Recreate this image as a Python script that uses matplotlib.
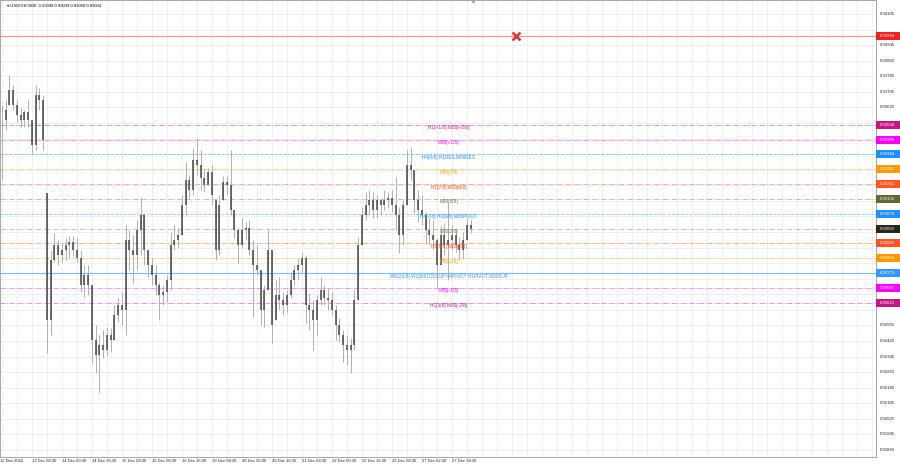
import matplotlib
matplotlib.use("Agg")
import matplotlib.pyplot as plt
from matplotlib.patches import Rectangle
from matplotlib.transforms import blended_transform_factory
import numpy as np

plt.rcParams['font.family'] = ['Liberation Sans', 'DejaVu Sans']

title = "USDCHF,M30  0.93038 0.93039 0.93000 0.93004"

# price blocks (2 hours each)
hi = [0.93637, 0.93663, 0.93792, 0.93740, 0.93663, 0.93622, 0.93612, 0.93663, 0.93560, 0.93740,
      0.93725, 0.93689, 0.93185, 0.92892, 0.92979, 0.92943, 0.92928, 0.92954, 0.92964, 0.92964,
      0.92954, 0.92892, 0.92815, 0.92815, 0.92712, 0.92507, 0.92455, 0.92481, 0.92496, 0.92491,
      0.92609, 0.92645, 0.92676, 0.93021, 0.92995, 0.92969, 0.93046, 0.93164, 0.93082, 0.92892,
      0.92851, 0.92815, 0.92728, 0.92712, 0.92764, 0.92985, 0.93021, 0.93005, 0.93175, 0.93344,
      0.93278, 0.93416, 0.93468, 0.93406, 0.93313, 0.93313, 0.93329, 0.93149, 0.93175, 0.93272,
      0.93278, 0.93406, 0.93098, 0.93005, 0.93056, 0.93036, 0.93046, 0.92943, 0.92918, 0.92789,
      0.92712, 0.92995, 0.92892, 0.92738, 0.92753, 0.92676, 0.92686, 0.92779, 0.92815, 0.92851,
      0.92882, 0.92866, 0.92671, 0.92635, 0.92661, 0.92753, 0.92712, 0.92697, 0.92676, 0.92609,
      0.92543, 0.92481, 0.92455, 0.92440, 0.92686, 0.92959, 0.93113, 0.93190, 0.93200, 0.93190,
      0.93175, 0.93159, 0.93200, 0.93190, 0.93200, 0.93267, 0.93113, 0.93149, 0.93406, 0.93421,
      0.93303, 0.93200, 0.93175, 0.93087, 0.93056, 0.93046, 0.92954, 0.93021, 0.93031, 0.93134,
      0.93021, 0.93005, 0.92959, 0.92985, 0.93056, 0.93046]
lo = [0.93252, 0.93509, 0.93637, 0.93612, 0.93550, 0.93524, 0.93524, 0.93524, 0.93391, 0.93406,
      0.93612, 0.93406, 0.92363, 0.92455, 0.92830, 0.92815, 0.92830, 0.92841, 0.92851, 0.92861,
      0.92830, 0.92676, 0.92650, 0.92661, 0.92311, 0.92260, 0.92157, 0.92337, 0.92352, 0.92368,
      0.92429, 0.92522, 0.92507, 0.92455, 0.92789, 0.92722, 0.92789, 0.92866, 0.92815, 0.92753,
      0.92712, 0.92661, 0.92532, 0.92609, 0.92625, 0.92686, 0.92892, 0.92902, 0.92969, 0.93072,
      0.93159, 0.93175, 0.93278, 0.93200, 0.93190, 0.93226, 0.93123, 0.92841, 0.92866, 0.93149,
      0.93175, 0.93072, 0.92954, 0.92825, 0.92902, 0.92943, 0.92866, 0.92548, 0.92764, 0.92507,
      0.92496, 0.92686, 0.92414, 0.92532, 0.92584, 0.92558, 0.92573, 0.92645, 0.92712, 0.92738,
      0.92779, 0.92517, 0.92481, 0.92378, 0.92455, 0.92609, 0.92609, 0.92584, 0.92558, 0.92429,
      0.92419, 0.92316, 0.92301, 0.92260, 0.92378, 0.92635, 0.92918, 0.93046, 0.93072, 0.93056,
      0.93056, 0.93072, 0.93098, 0.93108, 0.93087, 0.92995, 0.92877, 0.92918, 0.93123, 0.93252,
      0.93082, 0.93036, 0.93021, 0.92928, 0.92918, 0.92892, 0.92702, 0.92815, 0.92866, 0.92738,
      0.92892, 0.92882, 0.92841, 0.92851, 0.92943, 0.92979]
cl = [0.93560, 0.93612, 0.93714, 0.93637, 0.93586, 0.93560, 0.93601, 0.93560, 0.93432, 0.93689,
      0.93663, 0.93457, 0.92532, 0.92841, 0.92918, 0.92866, 0.92892, 0.92918, 0.92933, 0.92892,
      0.92851, 0.92712, 0.92764, 0.92712, 0.92429, 0.92352, 0.92404, 0.92378, 0.92455, 0.92429,
      0.92558, 0.92609, 0.92584, 0.92943, 0.92892, 0.92866, 0.92995, 0.93072, 0.92892, 0.92815,
      0.92764, 0.92712, 0.92661, 0.92676, 0.92738, 0.92918, 0.92943, 0.92969, 0.93123, 0.93252,
      0.93200, 0.93355, 0.93329, 0.93262, 0.93226, 0.93293, 0.93175, 0.92892, 0.93123, 0.93241,
      0.93226, 0.93098, 0.92995, 0.92918, 0.92995, 0.93005, 0.92892, 0.92815, 0.92789, 0.92584,
      0.92686, 0.92892, 0.92507, 0.92661, 0.92635, 0.92609, 0.92661, 0.92738, 0.92789, 0.92815,
      0.92851, 0.92609, 0.92584, 0.92532, 0.92635, 0.92686, 0.92645, 0.92635, 0.92584, 0.92507,
      0.92455, 0.92404, 0.92378, 0.92404, 0.92635, 0.92918, 0.93072, 0.93123, 0.93149, 0.93098,
      0.93149, 0.93123, 0.93149, 0.93159, 0.93123, 0.93072, 0.92969, 0.93123, 0.93329, 0.93303,
      0.93149, 0.93098, 0.93072, 0.92995, 0.92969, 0.92943, 0.92815, 0.92969, 0.92918, 0.92943,
      0.92969, 0.92918, 0.92892, 0.92943, 0.93021, 0.93002]

time_labels = ["12 Dec 2022", "13 Dec 08:30", "14 Dec 00:30", "14 Dec 16:30", "15 Dec 08:30",
               "16 Dec 00:30", "16 Dec 16:30", "19 Dec 08:30", "20 Dec 00:30", "20 Dec 16:30",
               "21 Dec 08:30", "22 Dec 00:30", "22 Dec 16:30", "23 Dec 08:30", "27 Dec 02:30",
               "27 Dec 18:30"]

price_ticks = [0.94105 - 0.0008 * k for k in range(29)]

# Murrey levels: price, label, colour, line style, box colour
lvl_price = [0.93536, 0.93460, 0.93384, 0.93307, 0.93231, 0.93155, 0.93079,
             0.93002, 0.92926, 0.92850, 0.92773, 0.92697, 0.92621]
lvl_text = ["H1[+1/8] M30[+2/8]", "M30[+1/8]", "H4[8/8] H1RES M30RES", "M30[7/8]",
            "H1[7/8] M30[6/8]", "M30[5/8]", "H4[7/8] H1[6/8] M30PIVOT", "M30[3/8]",
            "H1[5/8] M30[2/8]", "M30[1/8]", "MN1[6/8] W1[6/8] D1SUP H4PIVOT H1PIVOT M30SUP",
            "M30[-1/8]", "H1[3/8] M30[-2/8]"]
lvl_color = ["#c71585", "#ff00ff", "#1e90ff", "#ff9900", "#ff4500", "#6b7a3a", "#1e90ff",
             "#7a8040", "#ff4500", "#ff9900", "#3399ff", "#ff00ff", "#c71585"]
lvl_box = ["#c71585", "#ff00ff", "#1e90ff", "#ff9900", "#ff5520", "#5e6b34", "#1e90ff",
           "#24271a", "#ff5520", "#ff9900", "#3399ff", "#ff00ff", "#c71585"]
lvl_style = ["dashdot", "dashdot", "dashed", "dashdot", "dashdot", "dashdot", "dashed",
             "dashdot", "dashdot", "dashdot", "solid", "dashdot", "dashdot"]

alert_price = 0.93994

fig = plt.figure(figsize=(9, 4.68), dpi=100)
ax = fig.add_axes([0, 11 / 468, 876 / 900, 457 / 468])
ax.set_xlim(-0.5, 876 / 3.75 - 0.5)
ax.set_ylim(0.91829, 0.94177)

for s in ax.spines.values():
    s.set_color("#999999")
    s.set_linewidth(0.6)
ax.set_xticks([])
ax.set_yticks([])

# grid
for k in range(0, 60):
    ax.axvline(4 * k - 0.05, color="#ececec", lw=0.6, zorder=0)
for p in price_ticks:
    ax.axhline(p, color="#ececec", lw=0.6, zorder=0)

# level lines
for p, c, ls in zip(lvl_price, lvl_color, lvl_style):
    ax.axhline(p, color=c, lw=0.6, ls=ls, alpha=0.5 if ls != "solid" else 0.8, zorder=1)
ax.axhline(alert_price, color="#ff9090", lw=0.8, zorder=1)

# candles
n = len(cl)
x = np.arange(n)
op = np.clip(np.r_[cl[0], cl[:-1]], lo, hi)
ax.vlines(x, lo, hi, color="#b0b0b0", lw=0.7, zorder=2)
ax.vlines(x, np.minimum(op, cl), np.maximum(op, cl), color="#484848", lw=1.1, zorder=3)

# level labels on chart
for p, t, c in zip(lvl_price, lvl_text, lvl_color):
    ax.text(119.2, p - 0.00002, t, color=c, fontsize=3.4, ha="center", va="top", zorder=4)

# alert cross
ax.plot([137], [alert_price], marker="x", color="#e83030", ms=6, mew=1.8, zorder=5)

# title
ax.text(0.008, 0.993, "\u25be " + title, transform=ax.transAxes, fontsize=3.0,
        va="top", ha="left", color="#000000")
# chart shift marker
ax.plot([125.7], [0.94172], marker="v", color="#aaaaaa", ms=2.5, zorder=5, clip_on=False)

# right price scale
tr = blended_transform_factory(ax.transAxes, ax.transData)
bh = 0.00041
box_prices = lvl_price + [alert_price]
for p in price_ticks:
    if min(abs(p - b) for b in box_prices) < 0.00045:
        continue
    ax.text(1.004, p, "%.5f" % p, transform=tr, fontsize=3.1, va="center", ha="left",
            color="#222222", clip_on=False)
for p, c in zip(box_prices, lvl_box + ["#ee2222"]):
    ax.add_patch(Rectangle((1.0005, p - bh / 2), 0.027, bh, transform=tr, facecolor=c,
                           edgecolor="none", clip_on=False, zorder=6))
    ax.text(1.004, p, "%.5f" % p, transform=tr, fontsize=3.1, va="center", ha="left",
            color="white", clip_on=False, zorder=7)

# time scale
for k, lab in enumerate(time_labels):
    pos = -0.4 if k == 0 else 8 * k - 0.05
    ax.text(pos, 0.91829 - 0.00012, lab, fontsize=3.0, va="top", ha="left",
            color="#222222", clip_on=False)

fig.savefig("out.png", dpi=100)
